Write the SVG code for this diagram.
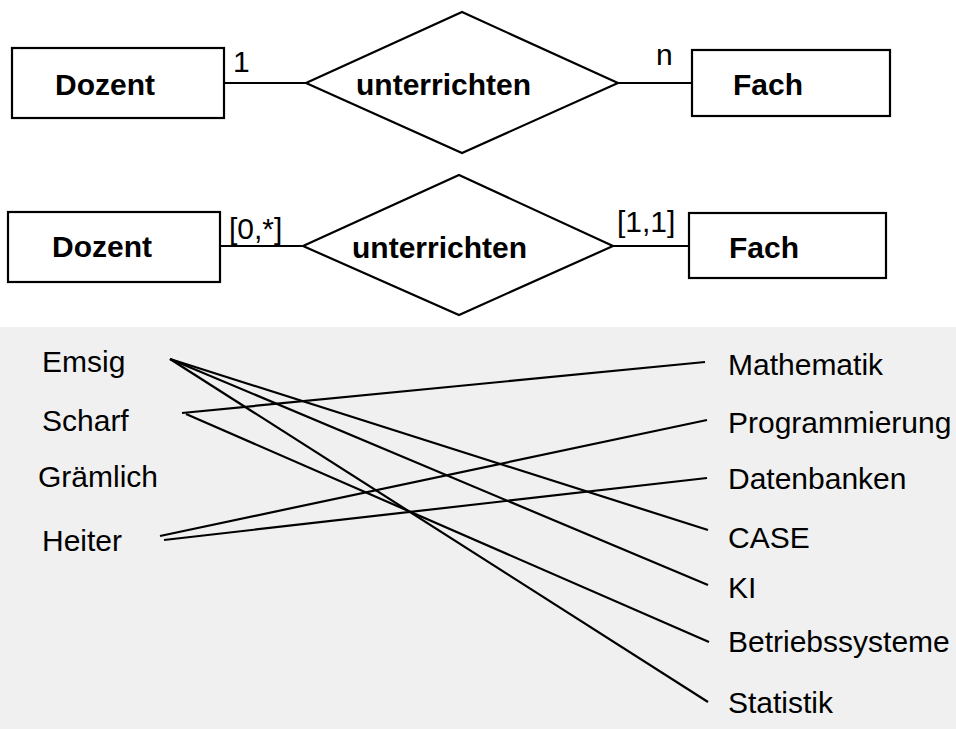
<svg xmlns="http://www.w3.org/2000/svg" width="956" height="729" viewBox="0 0 956 729">
  <style>
    .box { fill: #ffffff; stroke: #000000; stroke-width: 2.2; }
    .conn { fill: none; stroke: #000000; stroke-width: 2.2; }
    .bold { font-family: "Liberation Sans", Arial, sans-serif; font-weight: bold; font-size: 30px; fill: #000000; }
    .lbl { font-family: "Liberation Sans", Arial, sans-serif; font-size: 30px; fill: #000000; }
  </style>
  <rect x="0" y="0" width="956" height="729" fill="#ffffff"/>

  <!-- first ER notation: simple cardinalities -->
  <g id="connectors-top">
    <line class="conn" x1="224" y1="83" x2="306" y2="83"/>
    <line class="conn" x1="618" y1="83" x2="692" y2="83"/>
    <line class="conn" x1="220" y1="246" x2="303" y2="246"/>
    <line class="conn" x1="613" y1="246" x2="689" y2="246"/>
  </g>

  <g id="dozent1">
    <rect class="box" x="12" y="48" width="212" height="70"/>
    <text class="bold" x="55" y="95">Dozent</text>
  </g>
  <g id="rel1">
    <polygon class="box" points="306,83 462,12 618,83 462,153"/>
    <text class="bold" x="356" y="95">unterrichten</text>
  </g>
  <g id="fach1">
    <rect class="box" x="692" y="50" width="198" height="66"/>
    <text class="bold" x="733" y="95">Fach</text>
  </g>
  <g id="card1">
    <text class="lbl" x="233" y="72">1</text>
    <text class="lbl" x="656" y="65">n</text>
  </g>

  <!-- second ER notation: min/max cardinalities -->
  <g id="dozent2">
    <rect class="box" x="8" y="212" width="212" height="70"/>
    <text class="bold" x="52" y="257">Dozent</text>
  </g>
  <g id="rel2">
    <polygon class="box" points="303,246 459,175 613,246 459,315"/>
    <text class="bold" x="352" y="258">unterrichten</text>
  </g>
  <g id="fach2">
    <rect class="box" x="689" y="213" width="197" height="65"/>
    <text class="bold" x="729" y="258">Fach</text>
  </g>
  <g id="card2">
    <text class="lbl" x="229" y="239">[0,*]</text>
    <text class="lbl" x="617" y="232">[1,1]</text>
  </g>

  <!-- instance mapping -->
  <rect x="0" y="327" width="956" height="402" fill="#f0f0f0"/>

  <g id="mapping-lines">
    <line class="conn" x1="170" y1="359" x2="708" y2="530"/>
    <line class="conn" x1="170" y1="359" x2="708" y2="585"/>
    <line class="conn" x1="170" y1="359" x2="708" y2="702"/>
    <line class="conn" x1="182" y1="413" x2="705" y2="362"/>
    <line class="conn" x1="186" y1="414" x2="709" y2="642"/>
    <line class="conn" x1="160" y1="536" x2="707" y2="420"/>
    <line class="conn" x1="164" y1="540" x2="707" y2="478"/>
  </g>

  <g id="dozenten">
    <text class="lbl" x="42" y="372">Emsig</text>
    <text class="lbl" x="42" y="431">Scharf</text>
    <text class="lbl" x="38" y="487">Grämlich</text>
    <text class="lbl" x="42" y="551">Heiter</text>
  </g>

  <g id="faecher">
    <text class="lbl" x="728" y="375">Mathematik</text>
    <text class="lbl" x="728" y="433">Programmierung</text>
    <text class="lbl" x="728" y="489">Datenbanken</text>
    <text class="lbl" x="728" y="548">CASE</text>
    <text class="lbl" x="728" y="598">KI</text>
    <text class="lbl" x="728" y="652">Betriebssysteme</text>
    <text class="lbl" x="728" y="713">Statistik</text>
  </g>
</svg>
